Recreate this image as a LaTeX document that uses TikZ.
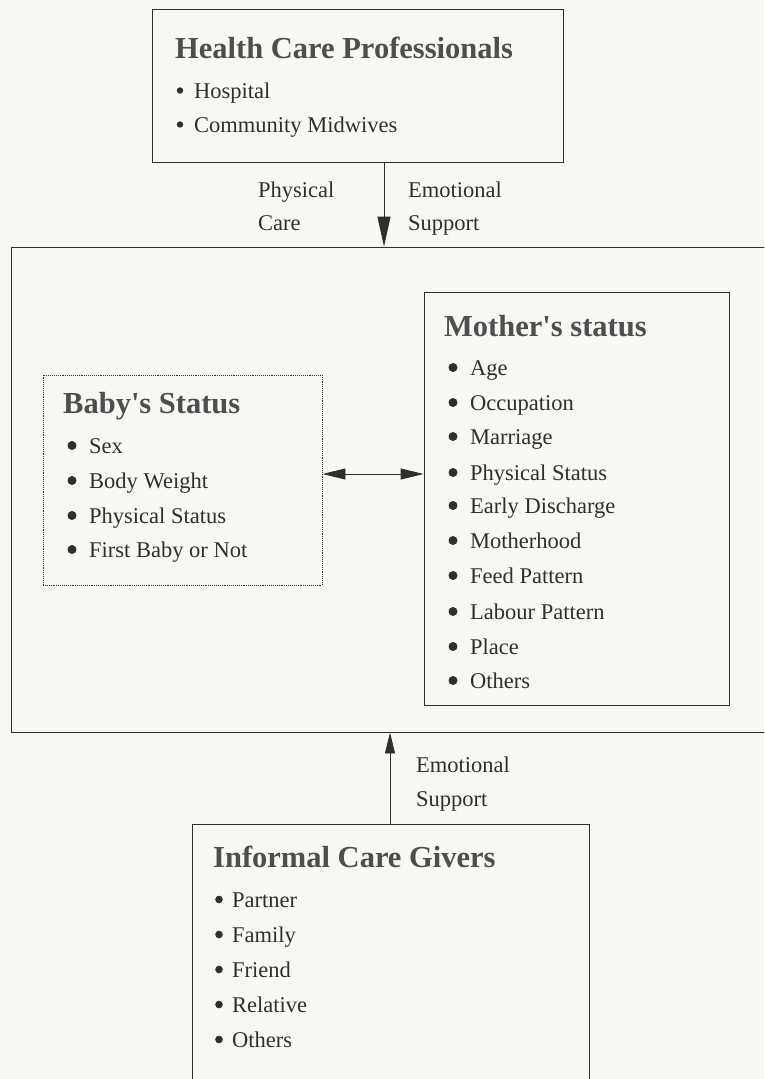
\documentclass[tikz,border=0pt]{standalone}
\usepackage{fontspec}
\setmainfont{Liberation Serif}
\usetikzlibrary{arrows.meta}

\definecolor{ink}{HTML}{2F2F2F}
\definecolor{paper}{HTML}{F7F7F3}

\tikzset{
  box/.style={draw=ink, line width=0.9pt, inner sep=0pt},
  head/.style={anchor=base west, inner sep=0pt, text=ink!85,
    font=\fontsize{30.5}{36}\selectfont\bfseries},
  item/.style={anchor=base west, inner sep=0pt, text=ink,
    font=\fontsize{22.5}{27}\selectfont},
  flow/.style={draw=ink, line width=0.9pt},
}

\begin{document}
\begin{tikzpicture}[x=1pt,y=-1pt]

\fill[paper] (0,0) rectangle (764,1079);
\useasboundingbox (0,0) rectangle (764,1079);
\clip (0,0) rectangle (764,1079);

% Boxes
\node[box, minimum width=411pt, minimum height=153pt] (hcp) at (357.5,85.5) {};
\node[box, minimum width=800pt, minimum height=485pt] (main) at (411,489.5) {};
\node[box, minimum width=305pt, minimum height=413pt] (mother) at (576.5,498.5) {};
\node[box, densely dotted, minimum width=279pt, minimum height=210pt] (baby) at (182.5,480) {};
\node[box, minimum width=397pt, minimum height=296pt] (icg) at (390.5,972) {};

% Health care professionals
\node[head] (hcpT) at (175,58) {Health Care Professionals};
\foreach \y/\t [count=\i] in {98/Hospital, 132/Community Midwives}{
  \fill[ink] (180,\y-7.5) circle (3.2pt);
  \node[item] (hcp\i) at (194,\y) {\t};
}

% Mother
\node[head] (motherT) at (444,336) {Mother\textquotesingle s status};
\foreach \y/\t [count=\i] in {375/Age, 410/Occupation, 444/Marriage,
    480/Physical Status, 513/Early Discharge, 548/Motherhood,
    583/Feed Pattern, 619/Labour Pattern, 654/Place, 688/Others}{
  \fill[ink] (453,\y-7.5) circle (4.5pt);
  \node[item] (mother\i) at (470,\y) {\t};
}

% Baby
\node[head] (babyT) at (63,413) {Baby\textquotesingle s Status};
\foreach \y/\t [count=\i] in {453/Sex, 488/Body Weight, 523/Physical Status,
    557/First Baby or Not}{
  \fill[ink] (72,\y-7.5) circle (4.5pt);
  \node[item] (baby\i) at (89,\y) {\t};
}

% Informal care givers
\node[head] (icgT) at (213,867) {Informal Care Givers};
\foreach \y/\t [count=\i] in {907/Partner, 942/Family, 977/Friend,
    1012/Relative, 1047/Others}{
  \fill[ink] (219,\y-7.5) circle (3.8pt);
  \node[item] (icg\i) at (232,\y) {\t};
}

% Arrows
\coordinate (a1) at (384,0);
\coordinate (a2) at (390,0);
\coordinate (a3) at (0,474);
\draw[flow, -{Triangle[length=30pt,width=13pt]}] (hcp.south -| a1) -- (main.north -| a1);
\draw[flow, -{Triangle[length=21pt,width=10pt]}] (icg.north -| a2) -- (main.south -| a2);
\draw[flow, {Triangle[length=23pt,width=11pt]}-{Triangle[length=23pt,width=11pt]}]
  (baby.east |- a3) -- (mother.west |- a3);

% Arrow labels
\node[item] (physL) at (258,197) {Physical};
\node[item] (careL) at (258,230) {Care};
\node[item] (emoL) at (408,197) {Emotional};
\node[item] (supL) at (408,230) {Support};
\node[item] (emoL2) at (416,772) {Emotional};
\node[item] (supL2) at (416,806) {Support};

\end{tikzpicture}
\end{document}
